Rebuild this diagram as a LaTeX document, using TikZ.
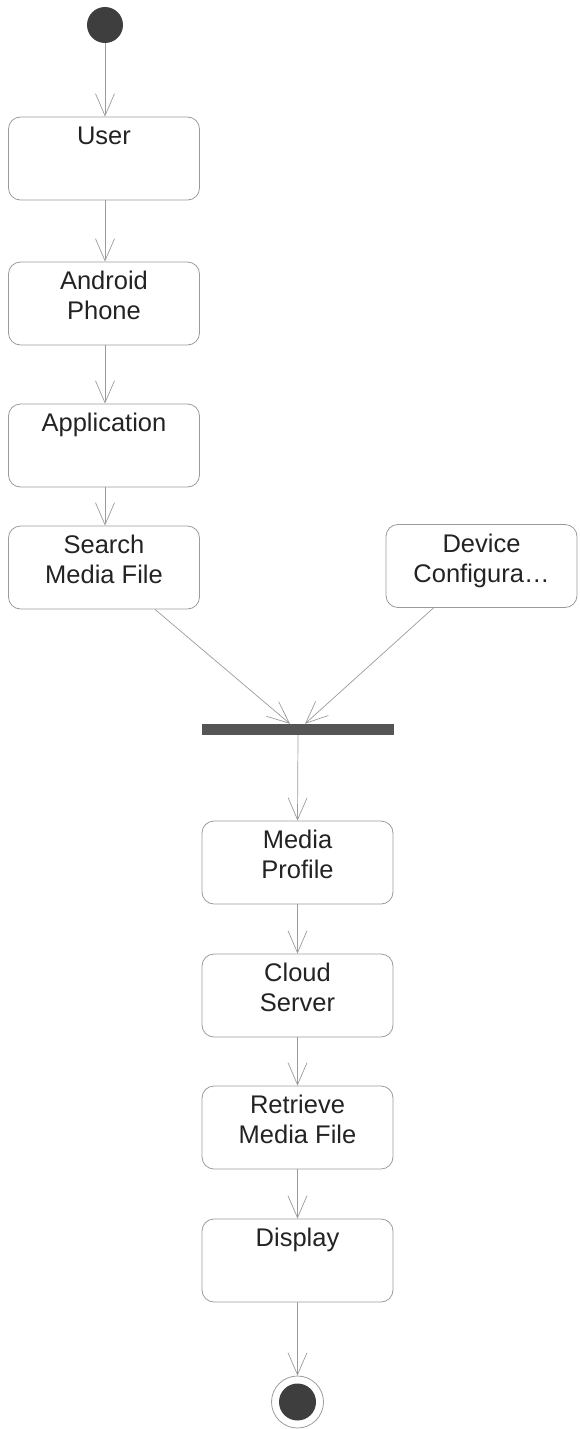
\documentclass[tikz,border=0pt]{standalone}
\usepackage{fontspec}
\setmainfont{Liberation Sans}
\usepackage{tikz}
\usetikzlibrary{arrows.meta}
\definecolor{linegray}{RGB}{155,155,155}
\definecolor{darkfill}{RGB}{62,62,62}
\definecolor{barfill}{RGB}{85,85,85}
\definecolor{textgray}{RGB}{35,35,35}
\newcommand{\acttext}[1]{\parbox[c][83pt][t]{191pt}{\centering\rule{0pt}{27.5pt}#1}}

\begin{document}
\begin{tikzpicture}[x = 1pt, y = -1pt,
	act/.style = {draw = linegray, line width = 0.8pt, rounded corners = 12pt, inner sep = 0pt, text = textgray, font = \fontsize{25.5}{30}\selectfont},
	flow/.style = {draw = linegray, line width = 0.7pt, -{Straight Barb[length = 22pt, width = 19pt]}}]
	    \useasboundingbox (0,0) rectangle (579,1429);
	    \node[circle, fill = darkfill, minimum size = 36pt, inner sep = 0pt] (start) at (105,25) {};
	    \node[act] (user) at (104,158.5) {\acttext{User}};
	    \node[act] (android) at (104,303.5) {\acttext{Android\\Phone}};
	    \node[act] (app) at (104,445.5) {\acttext{Application}};
	    \node[act] (search) at (104,567.5) {\acttext{Search\\Media File}};
	    \node[act] (device) at (481.5,566) {\acttext{Device\\Configura\ldots}};
	    \node[fill = barfill, minimum width = 192pt, minimum height = 11pt, inner sep = 0pt] (bar) at (298,729.5) {};
	    \node[act] (media) at (297.5,862.5) {\acttext{Media\\Profile}};
	    \node[act] (cloud) at (297.5,995.5) {\acttext{Cloud\\Server}};
	    \node[act] (retrieve) at (297.5,1127.5) {\acttext{Retrieve\\Media File}};
	    \node[act] (display) at (297.5,1260.5) {\acttext{Display}};
	    \node[circle, draw = linegray, line width = 0.8pt, minimum size = 52pt, inner sep = 0pt] (final) at (297.5,1402) {};
	    \node[circle, fill = darkfill, minimum size = 37pt, inner sep = 0pt] (finaldot) at (final.center) {};
	    \draw[flow] (start) -- (start |- user.north);
	    \draw[flow] (user.south -| start) -- (start |- android.north);
	    \draw[flow] (android.south -| start) -- (start |- app.north);
	    \draw[flow] (app.south -| start) -- (start |- search.north);
	    \draw[flow] ([xshift = 51pt]search.south) -- ([xshift = -8pt]bar.north);
	    \draw[flow] ([xshift = -48pt]device.south) -- ([xshift = 7pt]bar.north);
	    \draw[flow] (bar.south) -- (media.north);
	    \draw[flow] (media) -- (cloud);
	    \draw[flow] (cloud) -- (retrieve);
	    \draw[flow] (retrieve) -- (display);
	    \draw[flow] (display) -- (final);
	\end{tikzpicture}
\end{document}
